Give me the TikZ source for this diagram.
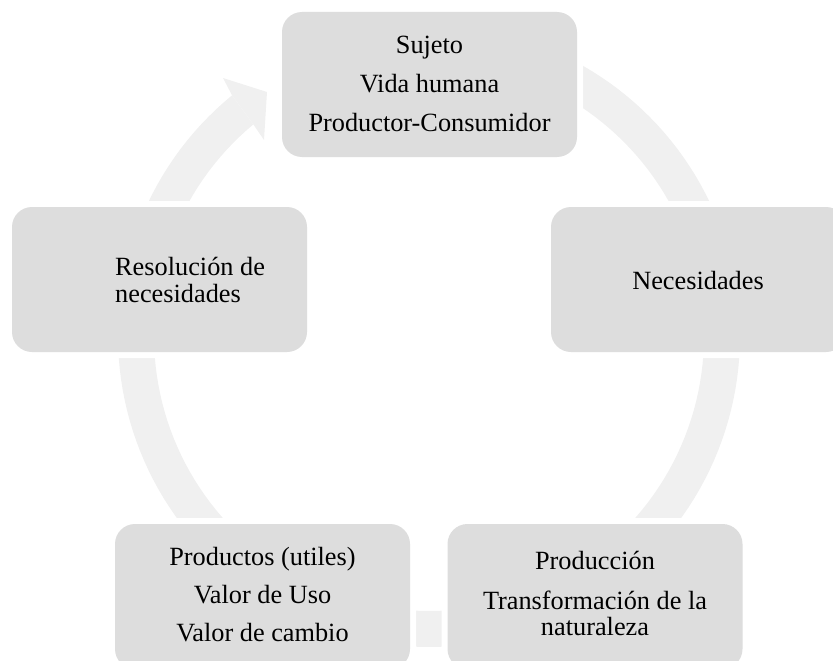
\documentclass[tikz,border=0pt]{standalone}
\usepackage{fontspec}
\setmainfont{Liberation Serif}
\definecolor{boxgray}{HTML}{DDDDDD}
\definecolor{ringgray}{HTML}{F0F0F0}
\begin{document}
\begin{tikzpicture}[x=1pt,y=-1pt,
  box/.style={preaction={draw=white,line width=12pt}, fill=boxgray, rounded corners=20pt,
              minimum width=295pt, minimum height=145pt, inner sep=0pt},
  lbl/.style={anchor=base, inner sep=0pt, font=\fontsize{26.3}{28}\selectfont},
  lbll/.style={anchor=base west, inner sep=0pt, font=\fontsize{26.3}{28}\selectfont},
  ring/.style={fill=ringgray}
  ]
\useasboundingbox (0,0) rectangle (833,661);
\clip (0,0) rectangle (833,661);
% ring band
\fill[ring] plot[domain=-129.3:-440, samples=160] ({429+311*cos(\x)},{336+311*sin(\x)})
  -- plot[domain=-440:-129.7, samples=160] ({429+275*cos(\x)},{336+275*sin(\x)}) -- cycle;
% arrow head
\coordinate (hbo) at ({429+311*cos(-129.3)},{336+311*sin(-129.3)});
\coordinate (hbi) at ({429+275*cos(-129.7)},{336+275*sin(-129.7)});
\coordinate (hw1) at (223,78);
\coordinate (ht1) at (267,92);
\coordinate (ht2) at (264,140);
\fill[ring] (hbo) -- (hw1) -- (ht1) -- (ht2) -- (hbi) -- cycle;
% boxes
\node[box] (top) at (429.5,84.5) {};
\node[box] (right) at (698.5,279.5) {};
\node[box] (br) at (595,596.5) {};
\node[box] (bl) at (262.5,596.5) {};
\node[box] (left) at (159.5,279.5) {};
% labels
\node[lbl] (t1) at (429.5,54) {Sujeto};
\node[lbl] (t2) at (429.5,92.5) {Vida humana};
\node[lbl] (t3) at (429.5,131) {Productor-Consumidor};
\node[lbl] (r1) at (698,289) {Necesidades};
\node[lbl] (p1) at (595,569.5) {Producción};
\node[lbl] (p2) at (595,609) {Transformación de la};
\node[lbl] (p3) at (595,635) {naturaleza};
\node[lbl] (q1) at (262.5,565) {Productos (utiles)};
\node[lbl] (q2) at (262.5,603.5) {Valor de Uso};
\node[lbl] (q3) at (262.5,641) {Valor de cambio};
\node[lbll] (l1) at (115,275) {Resolución de};
\node[lbll] (l2) at (115,302) {necesidades};
\end{tikzpicture}
\end{document}
